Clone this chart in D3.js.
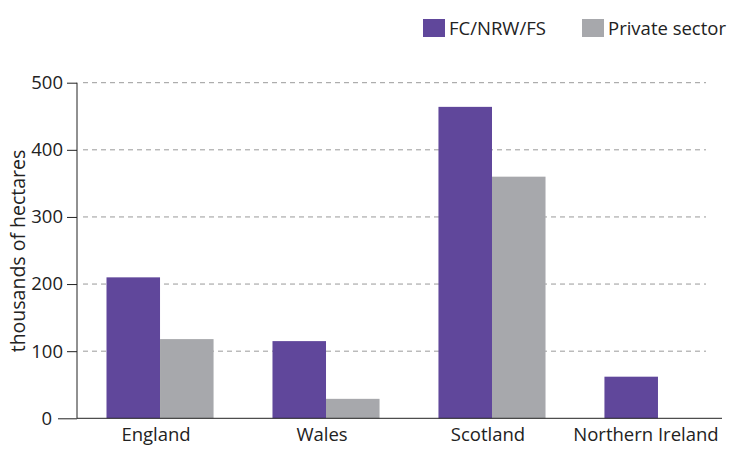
<!DOCTYPE html>
<html>
<head>
  <style>
    body { margin: 0; background: #fff; }
    text { font-family: "Open Sans", sans-serif; fill: #222; }
  </style>
</head>
<body>
  <svg id="chart" width="732" height="451"></svg>

  <script src="https://d3js.org/d3.v7.min.js"></script>
  <script>
    // data
    const countries = ["England", "Wales", "Scotland", "Northern Ireland"];
    const seriesNames = ["FC/NRW/FS", "Private sector"];
    const publicValues = [210, 115, 464, 62];
    const privateValues = [118, 29, 360, 0];
    const yTicks = [0, 100, 200, 300, 400, 500];

    const colors = ["#60479b", "#a7a8ac"];

    const svg = d3.select("#chart");

    const x = d3.scaleBand()
      .domain(countries)
      .range([106.5, 711.5])
      .paddingInner(0.355)
      .paddingOuter(0);

    const xSub = d3.scaleBand()
      .domain(seriesNames)
      .range([0, x.bandwidth()]);

    const y = d3.scaleLinear()
      .domain([0, 500])
      .range([418.3, 82.7]);

    // grid lines
    svg.append("g")
      .selectAll("line")
      .data(yTicks.filter(d => d > 0))
      .join("line")
      .attr("x1", 83)
      .attr("x2", 706)
      .attr("y1", d => y(d))
      .attr("y2", d => y(d))
      .attr("stroke", "#9a9a9a")
      .attr("stroke-width", 1)
      .attr("stroke-dasharray", "5,4");

    // bars
    const rows = countries.map((c, i) => ({ country: c, values: [publicValues[i], privateValues[i]] }));

    svg.append("g")
      .selectAll("g")
      .data(rows)
      .join("g")
      .attr("transform", d => `translate(${x(d.country)},0)`)
      .selectAll("rect")
      .data(d => d.values.map((v, j) => ({ name: seriesNames[j], value: v, idx: j })))
      .join("rect")
      .attr("x", d => xSub(d.name))
      .attr("width", xSub.bandwidth())
      .attr("y", d => y(d.value))
      .attr("height", d => y(0) - y(d.value))
      .attr("fill", d => colors[d.idx]);

    // y axis
    const yAxis = svg.append("g")
      .attr("transform", "translate(77,0)")
      .call(d3.axisLeft(y).tickValues(yTicks).tickSize(10).tickPadding(4));
    yAxis.select(".domain").attr("d", `M0,${y(0)}V${y(500)}`).attr("stroke", "#222");
    yAxis.selectAll(".tick line").attr("stroke", "#222");
    yAxis.selectAll(".tick text")
      .style("font-family", "'Open Sans', sans-serif")
      .style("font-size", "18.5px")
      .attr("fill", "#222");
    yAxis.selectAll(".tick").filter(d => d === 0).select("line").attr("x2", -19);
    yAxis.selectAll(".tick").filter(d => d === 0).select("text").attr("x", -25);

    // baseline
    svg.append("line")
      .attr("x1", 77).attr("x2", 722)
      .attr("y1", y(0)).attr("y2", y(0))
      .attr("stroke", "#222");

    // x labels
    svg.append("g")
      .selectAll("text")
      .data(countries)
      .join("text")
      .attr("x", d => x(d) + x.bandwidth() / 2 - (d === "Northern Ireland" ? 12 : 4))
      .attr("y", 441)
      .attr("text-anchor", "middle")
      .style("font-size", "18.5px")
      .text(d => d);

    // y title
    svg.append("text")
      .attr("transform", "translate(25,251) rotate(-90)")
      .attr("text-anchor", "middle")
      .style("font-size", "19.5px")
      .text("thousands of hectares");

    // legend
    const legendX = [423, 582];
    const legend = svg.append("g")
      .selectAll("g")
      .data(seriesNames)
      .join("g")
      .attr("transform", (d, i) => `translate(${legendX[i]},19)`);
    legend.append("rect")
      .attr("width", 22)
      .attr("height", 18)
      .attr("fill", (d, i) => colors[i]);
    legend.append("text")
      .attr("x", 26)
      .attr("y", 16)
      .style("font-size", "18.5px")
      .text(d => d);
  </script>
</body>
</html>
